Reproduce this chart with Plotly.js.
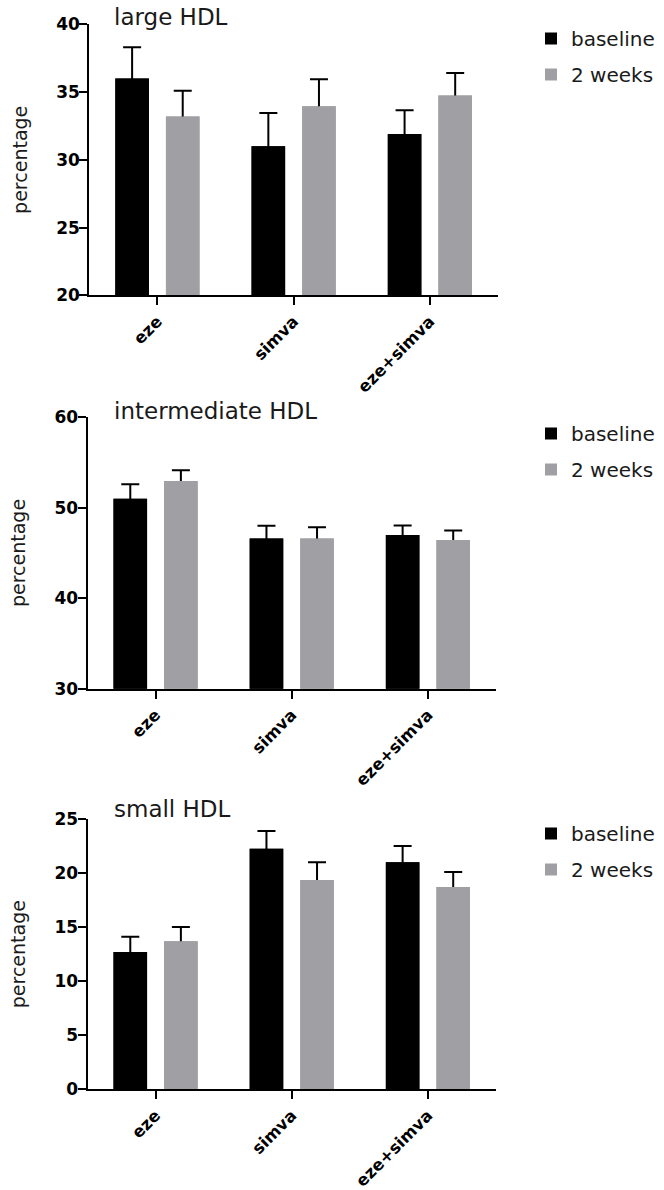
<!DOCTYPE html>
<html>
<head>
<meta charset="utf-8">
<script src="https://cdn.plot.ly/plotly-3.0.1.min.js"></script>
<style>html,body{margin:0;padding:0;background:#fff;}#chart{width:664px;height:1190px;}</style>
</head>
<body>
<div id="chart"></div>
<script>
var categories = ['eze', 'simva', 'eze+simva'];
var seriesNames = ['baseline', '2 weeks'];
var panelTitles = ['large HDL', 'intermediate HDL', 'small HDL'];

var largeBaseline = [36.0, 31.0, 31.9];
var largeBaselineErr = [2.3, 2.45, 1.75];
var largeWeeks = [33.2, 33.95, 34.75];
var largeWeeksErr = [1.9, 2.0, 1.65];

var interBaseline = [51.0, 46.6, 47.0];
var interBaselineErr = [1.6, 1.4, 1.05];
var interWeeks = [52.95, 46.6, 46.45];
var interWeeksErr = [1.2, 1.25, 1.05];

var smallBaseline = [12.7, 22.25, 21.0];
var smallBaselineErr = [1.4, 1.65, 1.5];
var smallWeeks = [13.7, 19.35, 18.7];
var smallWeeksErr = [1.3, 1.65, 1.4];

var yRanges = [[20, 40], [30, 60], [0, 25]];
var yDticks = [5, 10, 5];

var panels = [
  [largeBaseline, largeBaselineErr, largeWeeks, largeWeeksErr],
  [interBaseline, interBaselineErr, interWeeks, interWeeksErr],
  [smallBaseline, smallBaselineErr, smallWeeks, smallWeeksErr]
];

// style: the lower end of each whisker is tucked a little inside its bar (hidden under it)
var whiskerFoot = 0.3;

var colors = ['#000000', '#a0a0a4'];
var H = 1190, W = 664;
var yDomainsPx = [[24.3, 295.3], [417.3, 688.7], [819, 1089.3]];
var xDomainsPx = [[89.3, 498], [87.5, 496], [87.5, 496]];
var legendTopPx = [19, 414, 814];
var titleMidPx = [17, 411, 809];

var data = [];
var layout = {
  width: W, height: H,
  margin: {l: 0, r: 0, t: 0, b: 0},
  paper_bgcolor: '#ffffff', plot_bgcolor: '#ffffff',
  barmode: 'group', bargap: 0.257, bargroupgap: 0.337,
  font: {family: 'DejaVu Sans', color: '#1a1a1a'},
  showlegend: true,
  annotations: []
};

panels.forEach(function (p, i) {
  var sfx = i === 0 ? '' : String(i + 1);
  var ovl = String(i + 4);
  var legName = 'legend' + sfx;
  // bars with their upper error bars on the main subplot
  for (var s = 0; s < 2; s++) {
    data.push({
      type: 'bar',
      name: seriesNames[s],
      x: categories,
      y: p[s * 2],
      xaxis: 'x' + sfx, yaxis: 'y' + sfx,
      legend: legName,
      legendgroup: 'g' + i + '_' + s,
      offsetgroup: 's' + s,
      marker: {color: colors[s], line: {width: 0}},
      error_y: {type: 'data', array: p[s * 2 + 1],
                arrayminus: categories.map(function () { return whiskerFoot; }),
                symmetric: false, color: '#000000', thickness: 2, width: 9},
      hoverinfo: 'x+y+name'
    });
  }
  // the same bars again on an overlaid axis, painted over the foot of each whisker
  for (var s2 = 0; s2 < 2; s2++) {
    data.push({
      type: 'bar',
      name: seriesNames[s2],
      x: categories,
      y: p[s2 * 2],
      xaxis: 'x' + sfx, yaxis: 'y' + ovl,
      legend: legName,
      legendgroup: 'g' + i + '_' + s2,
      showlegend: false,
      offsetgroup: 's' + s2,
      marker: {color: colors[s2], line: {width: 0}},
      hoverinfo: 'skip'
    });
  }
  var xd = xDomainsPx[i], yd = yDomainsPx[i];
  var ydom = [1 - yd[1] / H, 1 - yd[0] / H];
  layout['xaxis' + sfx] = {
    domain: [xd[0] / W, xd[1] / W],
    anchor: 'y' + sfx,
    type: 'category',
    range: [-0.5, 2.5],
    showline: true, linecolor: '#000', linewidth: 2,
    ticks: 'outside', ticklen: 8, tickwidth: 2, tickcolor: '#000',
    tickangle: -45,
    tickfont: {family: 'DejaVu Sans', size: 16.5, color: '#000', weight: 'bold'},
    showgrid: false, zeroline: false, fixedrange: true
  };
  layout['yaxis' + sfx] = {
    domain: ydom,
    anchor: 'x' + sfx,
    range: yRanges[i], dtick: yDticks[i], tick0: 0,
    showline: true, linecolor: '#000', linewidth: 2,
    ticks: 'outside', ticklen: 8, tickwidth: 2, tickcolor: '#000',
    tickfont: {family: 'DejaVu Sans', size: 17, color: '#000', weight: 'bold'},
    ticklabelstandoff: -4,
    showgrid: false, zeroline: false, fixedrange: true,
    title: {text: 'percentage', font: {family: 'DejaVu Sans', size: 19, color: '#1a1a1a'}, standoff: 24}
  };
  layout['yaxis' + ovl] = {
    overlaying: 'y' + sfx,
    anchor: 'x' + sfx,
    range: yRanges[i],
    visible: false, showline: false, showgrid: false, zeroline: false, fixedrange: true
  };
  layout[legName] = {
    x: 531 / W, xanchor: 'left',
    y: 1 - legendTopPx[i] / H, yanchor: 'top',
    font: {family: 'DejaVu Sans', size: 20, color: '#1a1a1a'},
    bgcolor: 'rgba(0,0,0,0)', borderwidth: 0,
    traceorder: 'grouped', tracegroupgap: 7
  };
  layout.annotations.push({
    text: panelTitles[i], xref: 'paper', yref: 'paper',
    x: 112 / W, xanchor: 'left', y: 1 - titleMidPx[i] / H, yanchor: 'middle',
    showarrow: false, font: {family: 'DejaVu Sans', size: 23, color: '#1a1a1a'}
  });
});

Plotly.newPlot('chart', data, layout, {displayModeBar: false, staticPlot: true});
</script>
</body>
</html>
